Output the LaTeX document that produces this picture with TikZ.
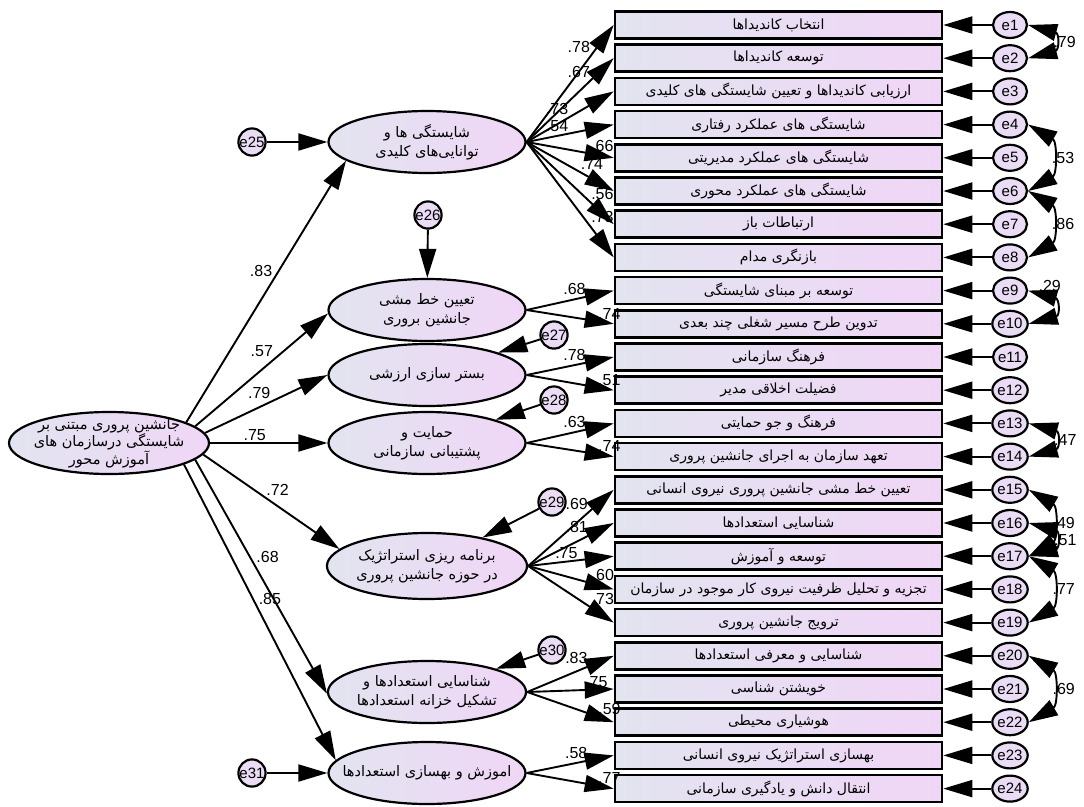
\documentclass[tikz,border=0pt]{standalone}
\usepackage{fontspec}
\setmainfont{Liberation Sans}
\newfontfamily\arabicfont[Script=Arabic]{DejaVu Sans}
\TeXXeTstate=1
\usetikzlibrary{arrows.meta,shapes}
\definecolor{lavL}{RGB}{226,228,240}
\definecolor{lavR}{RGB}{240,214,246}
\newcommand{\fatx}[1]{{\arabicfont\beginR #1\endR}}
\tikzstyle{ind} = [rectangle, draw, line width=2.6pt, left color=lavL, right color=lavR,
    minimum width=327pt, minimum height=27pt, inner sep=0pt, font=\fontsize{14}{15}\selectfont]
\tikzstyle{lat} = [ellipse, draw, line width=2.2pt, left color=lavL, right color=lavR,
    minimum width=197pt, minimum height=62pt, inner sep=0pt, align=center,
    font=\fontsize{14.5}{19}\selectfont]
\tikzstyle{err} = [ellipse, draw, line width=2.2pt, fill=lavR!60!lavL,
    minimum width=34pt, minimum height=26pt, inner sep=0pt, font=\fontsize{15}{15}\selectfont]
\tikzstyle{res} = [circle, draw, line width=2.2pt, fill=lavR!60!lavL,
    minimum size=27pt, inner sep=0pt, font=\fontsize{15}{15}\selectfont]
\tikzstyle{lbl} = [font=\fontsize{16}{16}\selectfont, inner sep=1pt]

\begin{document}
\begin{tikzpicture}[->,>={Triangle[length=29pt,width=17pt]},line width=1.9pt,
                    x=1pt,y=-1pt,auto,node distance=33.2pt]
  \useasboundingbox (0,0) rectangle (1084,806);

  % observed items
  \node[ind] (b1) at (778.5,25) {\fatx{انتخاب کاندیداها}};
  \node[ind] (b2) [below of=b1] {\fatx{توسعه کاندیداها}};
  \node[ind] (b3) [below of=b2] {\fatx{ارزیابی کاندیداها و تعیین شایستگی های کلیدی}};
  \node[ind] (b4) [below of=b3] {\fatx{شایستگی های عملکرد رفتاری}};
  \node[ind] (b5) [below of=b4] {\fatx{شایستگی های عملکرد مدیریتی}};
  \node[ind] (b6) [below of=b5] {\fatx{شایستگی های عملکرد محوری}};
  \node[ind] (b7) [below of=b6] {\fatx{ارتباطات باز}};
  \node[ind] (b8) [below of=b7] {\fatx{بازنگری مدام}};
  \node[ind] (b9) [below of=b8] {\fatx{توسعه بر مبنای شایستگی}};
  \node[ind] (b10) [below of=b9] {\fatx{تدوین طرح مسیر شغلی چند بعدی}};
  \node[ind] (b11) [below of=b10] {\fatx{فرهنگ سازمانی}};
  \node[ind] (b12) [below of=b11] {\fatx{فضیلت اخلاقی مدیر}};
  \node[ind] (b13) [below of=b12] {\fatx{فرهنگ و جو حمایتی}};
  \node[ind] (b14) [below of=b13] {\fatx{تعهد سازمان به اجرای جانشین پروری}};
  \node[ind] (b15) [below of=b14] {\fatx{تعیین خط مشی جانشین پروری نیروی انسانی}};
  \node[ind] (b16) [below of=b15] {\fatx{شناسایی استعدادها}};
  \node[ind] (b17) [below of=b16] {\fatx{توسعه و آموزش}};
  \node[ind] (b18) [below of=b17] {\fatx{تجزیه و تحلیل ظرفیت نیروی کار موجود در سازمان}};
  \node[ind] (b19) [below of=b18] {\fatx{ترویج جانشین پروری}};
  \node[ind] (b20) [below of=b19] {\fatx{شناسایی و معرفی استعدادها}};
  \node[ind] (b21) [below of=b20] {\fatx{خویشتن شناسی}};
  \node[ind] (b22) [below of=b21] {\fatx{هوشیاری محیطی}};
  \node[ind] (b23) [below of=b22] {\fatx{بهسازی استراتژیک نیروی انسانی}};
  \node[ind] (b24) [below of=b23] {\fatx{انتقال دانش و یادگیری سازمانی}};

  % item errors
  \node[err] (e1) [right of=b1,node distance=231.5pt] {e1};
  \node[err] (e2) [right of=b2,node distance=231.5pt] {e2};
  \node[err] (e3) [right of=b3,node distance=231.5pt] {e3};
  \node[err] (e4) [right of=b4,node distance=231.5pt] {e4};
  \node[err] (e5) [right of=b5,node distance=231.5pt] {e5};
  \node[err] (e6) [right of=b6,node distance=231.5pt] {e6};
  \node[err] (e7) [right of=b7,node distance=231.5pt] {e7};
  \node[err] (e8) [right of=b8,node distance=231.5pt] {e8};
  \node[err] (e9) [right of=b9,node distance=231.5pt] {e9};
  \node[err] (e10) [right of=b10,node distance=231.5pt] {e10};
  \node[err] (e11) [right of=b11,node distance=231.5pt] {e11};
  \node[err] (e12) [right of=b12,node distance=231.5pt] {e12};
  \node[err] (e13) [right of=b13,node distance=231.5pt] {e13};
  \node[err] (e14) [right of=b14,node distance=231.5pt] {e14};
  \node[err] (e15) [right of=b15,node distance=231.5pt] {e15};
  \node[err] (e16) [right of=b16,node distance=231.5pt] {e16};
  \node[err] (e17) [right of=b17,node distance=231.5pt] {e17};
  \node[err] (e18) [right of=b18,node distance=231.5pt] {e18};
  \node[err] (e19) [right of=b19,node distance=231.5pt] {e19};
  \node[err] (e20) [right of=b20,node distance=231.5pt] {e20};
  \node[err] (e21) [right of=b21,node distance=231.5pt] {e21};
  \node[err] (e22) [right of=b22,node distance=231.5pt] {e22};
  \node[err] (e23) [right of=b23,node distance=231.5pt] {e23};
  \node[err] (e24) [right of=b24,node distance=231.5pt] {e24};

  % factors
  \node[lat,minimum width=200pt,inner xsep=-7pt,inner ysep=-5pt,
        font=\fontsize{14.5}{17}\selectfont] (main) at (109,443)
    {\fatx{جانشین پروری مبتنی بر}\\\fatx{شایستگی درسازمان های}\\\fatx{آموزش محور}};
  \node[lat] (l1) at (427,142) {\fatx{شایستگی ها و}\\\fatx{توانایی‌های کلیدی}};
  \node[lat] (l2) at (427,310) {\fatx{تعیین خط مشی}\\\fatx{جانشین بروری}};
  \node[lat] (l3) at (427,375) {\fatx{بستر سازی ارزشی}};
  \node[lat] (l4) at (427,443) {\fatx{حمایت و}\\\fatx{پشتیبانی سازمانی}};
  \node[lat,minimum height=66pt] (l5) at (427,566) {\fatx{برنامه ریزی استراتژیک}\\\fatx{در حوزه جانشین پروری}};
  \node[lat] (l6) at (427,692) {\fatx{شناسایی استعدادها و}\\\fatx{تشکیل خزانه استعدادها}};
  \node[lat,inner xsep=-16pt] (l7) at (427,773) {\fatx{اموزش و بهسازی استعدادها}};

  % disturbances
  \node[res] (e25) at (252,142) {e25};
  \node[res] (e26) at (428,215) {e26};
  \node[res] (e27) at (554,335) {e27};
  \node[res] (e28) at (554,400) {e28};
  \node[res] (e29) at (552,502) {e29};
  \node[res] (e30) at (552,650) {e30};
  \node[res] (e31) at (252,773) {e31};

  \path (main.15) edge node[lbl,pos=0.55] {.83} (l1.193)
        (main.11) edge node[lbl,pos=0.6] {.57} (l2.182)
        (main.6) edge node[lbl,pos=0.55] {.79} (l3.west)
        (main.0) edge node[lbl,pos=0.38] {.75} (l4.west)
        (main.-7) edge node[lbl,pos=0.45] {.72} (l5.169)
        (main.-11) edge node[lbl,pos=0.45] {.68} (l6.181)
        (main.-16) edge node[lbl,pos=0.48] {.85} (l7.172);

  \path (e25) edge (l1)
        (e26) edge (l2)
        (e27) edge (l3)
        (e28) edge (l4)
        (e29) edge (l5)
        (e30) edge (l6)
        (e31) edge (l7);

  \path (l1.east) edge node[lbl,pos=0.75] {.78} (b1.west)
                  edge node[lbl,pos=0.75] {.67} (b2.west)
                  edge node[lbl,pos=0.5] {.73} (b3.west)
                  edge node[lbl,pos=0.5] {.54} (b4.west)
                  edge node[lbl,pos=0.72] {.66} (b5.west)
                  edge node[lbl,pos=0.6] {.74} (b6.west)
                  edge node[lbl,pos=0.72] {.56} (b7.west)
                  edge node[lbl,pos=0.72] {.73} (b8.west)
        (l2.east) edge node[lbl,pos=0.7] {.68} (b9.west)
                  edge node[lbl,pos=0.8] {.74} (b10.west)
        (l3.east) edge node[lbl,pos=0.7] {.78} (b11.west)
                  edge node[lbl,pos=0.8] {.51} (b12.west)
        (l4.east) edge node[lbl,pos=0.7] {.63} (b13.west)
                  edge node[lbl,pos=0.8] {.74} (b14.west)
        (l5.east) edge node[lbl,pos=0.72] {.69} (b15.west)
                  edge node[lbl,pos=0.72] {.81} (b16.west)
                  edge node[lbl,pos=0.6] {.75} (b17.west)
                  edge node[lbl,pos=0.72] {.60} (b18.west)
                  edge node[lbl,pos=0.72] {.73} (b19.west)
        (l6.east) edge node[lbl,pos=0.72] {.83} (b20.west)
                  edge node[lbl,pos=0.8] {.75} (b21.west)
                  edge node[lbl,pos=0.8] {.59} (b22.west)
        (l7.east) edge node[lbl,pos=0.72] {.58} (b23.west)
                  edge node[lbl,pos=0.8] {.77} (b24.west);

  \path (e1) edge (b1) (e2) edge (b2) (e3) edge (b3) (e4) edge (b4)
        (e5) edge (b5) (e6) edge (b6) (e7) edge (b7) (e8) edge (b8)
        (e9) edge (b9) (e10) edge (b10) (e11) edge (b11) (e12) edge (b12)
        (e13) edge (b13) (e14) edge (b14) (e15) edge (b15) (e16) edge (b16)
        (e17) edge (b17) (e18) edge (b18) (e19) edge (b19) (e20) edge (b20)
        (e21) edge (b21) (e22) edge (b22) (e23) edge (b23) (e24) edge (b24);

  % covariances
  \path[<->] (e1.east) edge[out=-15,in=15,looseness=2.5] node[lbl] {.79} (e2.east)
             (e4.east) edge[out=-30,in=30,looseness=1.3] node[lbl] {.53} (e6.east)
             (e6.east) edge[out=-30,in=30,looseness=1.3] node[lbl] {.86} (e8.east)
             (e9.east) edge[out=-15,in=15,looseness=2.5] node[lbl,pos=0.1] {.29} (e10.east)
             (e13.east) edge[out=-15,in=15,looseness=2.5] node[lbl] {.47} (e14.east)
             (e15.east) edge[out=-30,in=30,looseness=1.3] node[lbl] {.49} (e17.east)
             (e16.east) edge[out=-15,in=15,looseness=2.5] node[lbl] {.51} (e17.east)
             (e17.east) edge[out=-30,in=30,looseness=1.3] node[lbl] {.77} (e19.east)
             (e20.east) edge[out=-30,in=30,looseness=1.3] node[lbl] {.69} (e22.east);
\end{tikzpicture}
\end{document}
